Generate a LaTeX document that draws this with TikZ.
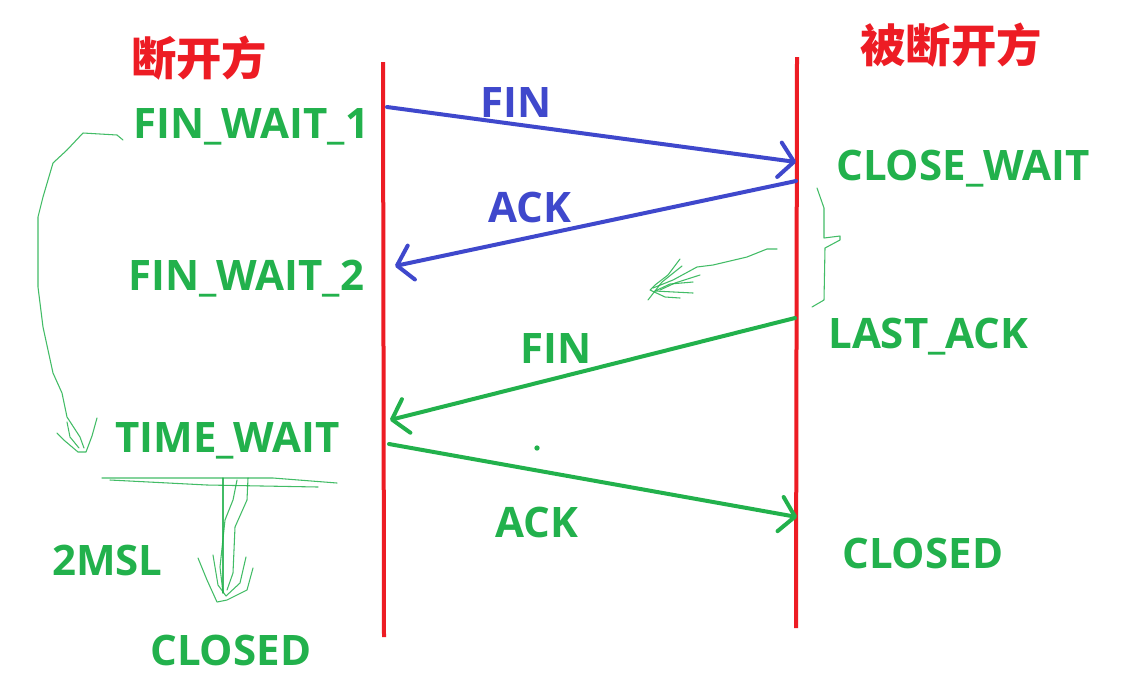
\documentclass[tikz,border=0pt]{standalone}
\usepackage{fontspec}
\setmainfont{Open Sans}
\newfontfamily\cjk{Noto Sans CJK SC}
\usetikzlibrary{arrows.meta}
\definecolor{pred}{HTML}{ED1C24}
\definecolor{pblue}{HTML}{3F48CC}
\definecolor{pgreen}{HTML}{22B14C}
\begin{document}
\begin{tikzpicture}[x=0.75pt,y=-0.75pt,
  lbl/.style={font=\fontsize{31.5}{35}\selectfont\bfseries, inner sep=0, anchor=base west},
  state/.style={lbl, text=pgreen},
  title/.style={font=\cjk\fontsize{34}{38}\selectfont\bfseries, text=pred, inner sep=0},
  lifeline/.style={draw=pred, line width=3pt},
  msg/.style={line width=3pt, line cap=round, -{Straight Barb[length=11pt,width=26pt,line width=3pt,round]}},
  scrib/.style={draw=pgreen, line width=0.8pt, line cap=round, line join=round, opacity=0.85}
]
\useasboundingbox (0,0) rectangle (1127,683);
\fill[white] (0,0) rectangle (1127,683);

% titles
\node[title] (tA) at (199,58) {断开方};
\node[title] (tB) at (951,45) {被断开方};

% lifelines
\coordinate (a0) at (383,62);
\coordinate (a1) at (384,637);
\coordinate (b0) at (797,57);
\coordinate (b1) at (796,628);
\draw[lifeline] (a0) -- (a1);
\draw[lifeline] (b0) -- (b1);

% message end points
\coordinate (m1s) at (387,107);  \coordinate (m1e) at (796,162);
\coordinate (m2s) at (796,181);  \coordinate (m2e) at (395,266);
\coordinate (m3s) at (795,318);  \coordinate (m3e) at (390,420);
\coordinate (m4s) at (389,444);  \coordinate (m4e) at (797,517);

\draw[msg, draw=pblue] (m1s) -- (m1e);
\draw[msg, draw=pblue] (m2s) -- (m2e);
\draw[msg, draw=pgreen] (m3s) -- (m3e);
\draw[msg, draw=pgreen] (m4s) -- (m4e);

% message labels
\node[lbl, text=pblue] (lfin1) at (480,117) {FIN};
\node[lbl, text=pblue] (lack1) at (488,222) {ACK};
\node[lbl, text=pgreen] (lfin2) at (520,363) {FIN};
\node[lbl, text=pgreen] (lack2) at (495,537) {ACK};
\fill[pgreen] (537,448) circle (2pt);

% states
\node[state] (fw1) at (133,138) {FIN\_WAIT\_1};
\node[state] (fw2) at (128,290) {FIN\_WAIT\_2};
\node[state] (tw)  at (115,452) {TIME\_WAIT};
\node[state] (msl) at (52,575) {2MSL};
\node[state] (cl1) at (150,665) {CLOSED};
\node[state] (cw)  at (836,180) {CLOSE\_WAIT};
\node[state] (la)  at (828,348) {LAST\_ACK};
\node[state] (cl2) at (842,568) {CLOSED};

% hand-drawn scribbles
% left curved arrow FIN_WAIT_1 -> TIME_WAIT
\draw[scrib] (123,140) -- (117,135) -- (83,133) -- (67,150) -- (53,163) -- (43,197) -- (38,217)
  -- (38,287) -- (43,327) -- (53,373) -- (62,393) -- (67,417) -- (80,437) -- (84,448);
\draw[scrib] (57,433) -- (65,441) -- (78,452) -- (86,452) -- (92,436) -- (97,418);
\draw[scrib] (67,422) -- (70,437) -- (79,448);
% underline below TIME_WAIT
\draw[scrib] (102,478) -- (273,478) -- (337,483);
\draw[scrib] (110,480) -- (207,485) -- (318,487);
% downward arrow (2MSL)
\draw[scrib] (223,478) -- (223,593);
\draw[scrib] (248,478) -- (247,500) -- (235,527) -- (233,573) -- (227,590);
\draw[scrib] (237,480) -- (233,500) -- (225,520) -- (220,567) -- (223,593);
\draw[scrib] (198,558) -- (207,580) -- (217,602) -- (227,600) -- (247,590) -- (253,568);
\draw[scrib] (213,555) -- (218,585) -- (226,596) -- (240,583) -- (246,557);
% middle scribble arrow
\draw[scrib] (777,249) -- (767,249) -- (747,257) -- (713,265) -- (697,267) -- (673,280) -- (653,288);
\draw[scrib] (680,259) -- (668,275) -- (655,285) -- (650,290) -- (665,297) -- (680,298);
\draw[scrib] (693,282) -- (670,284) -- (655,291) -- (693,293);
\draw[scrib] (682,266) -- (662,282) -- (648,300);
\draw[scrib] (700,275) -- (675,283) -- (660,290);
% right brace
\draw[scrib] (817,188) -- (824,208) -- (824,238) -- (840,236) -- (840,240) -- (825,248) -- (824,300) -- (812,307);
\end{tikzpicture}
\end{document}
